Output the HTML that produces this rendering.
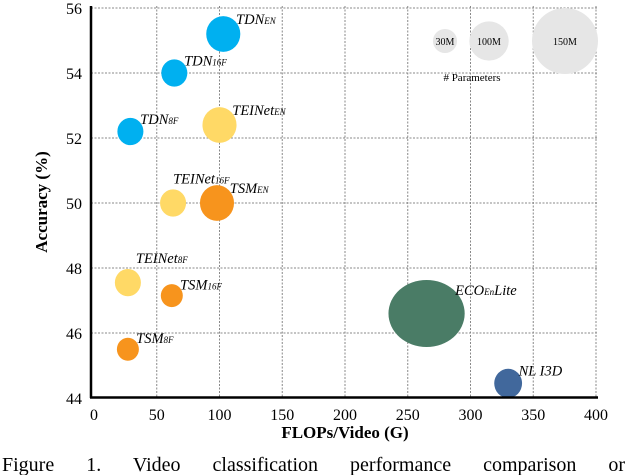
<!DOCTYPE html>
<html><head><style>
body{margin:0;background:#fff;width:640px;height:475px;overflow:hidden;font-family:"Liberation Serif",serif}
</style></head><body>
<svg width="640" height="475" style="position:absolute;left:0;top:0">
<g id="grid"></g>
<g id="bubbles"></g>
<g id="legend"></g>
<line x1="91" y1="6" x2="91" y2="398" stroke="#000" stroke-width="2.5"/>
<line x1="90" y1="397.5" x2="598" y2="397.5" stroke="#000" stroke-width="2.5"/>
<g id="ticks" font-size="16"></g>
<text x="345" y="438" text-anchor="middle" font-weight="bold" font-size="17">FLOPs/Video (G)</text>
<text transform="translate(47,202) rotate(-90)" text-anchor="middle" font-weight="bold" font-size="17">Accuracy (%)</text>
<text x="2" y="471" font-size="20" word-spacing="27">Figure 1. Video classification performance comparison or</text>
</svg>
<script>
const labels=["TDN","TDN","TDN","TEINet","TEINet","TSM","TEINet","TSM","TSM","ECO","NL I3D"];
const subs=["EN","16F","8F","EN","16F","EN","8F","16F","8F","En",""];
const flops=[103,64,29,100,63,98,27,62,27,265,330];
const acc=[55.2,54.0,52.2,52.4,50.0,50.0,47.55,47.15,45.5,46.6,44.45];
const params=[60,35,35,60,35,60,35,25,25,300,40];
const colors=["#00b0f0","#00b0f0","#00b0f0","#ffd966","#ffd966","#f7941d","#ffd966","#f7941d","#f7941d","#4a7c66","#41689c"];
const xTicks=[0,50,100,150,200,250,300,350,400];
const yTicks=[44,46,48,50,52,54,56];
const legendSizes=[30,80,225];
const legendLabels=["30M","100M","150M"];
const NS="http://www.w3.org/2000/svg";
const x=v=>94+1.255*v, y=v=>398-(v-44)*32.5;
const r=p=>2.2*Math.sqrt(p);
function mk(t,a,p){const e=document.createElementNS(NS,t);for(const k in a)e.setAttribute(k,a[k]);p.appendChild(e);return e;}
const grid=document.getElementById('grid'),tk=document.getElementById('ticks');
xTicks.forEach(v=>{if(v>0){const l=mk('line',{x1:x(v),x2:x(v),y1:6,y2:398,stroke:'#888','stroke-dasharray':'2,1.5','stroke-width':1},grid);

}
const t=mk('text',{x:x(v),y:420,'text-anchor':'middle'},tk);t.textContent=v;

});
yTicks.forEach(v=>{if(v>44){const l=mk('line',{x1:91,x2:598,y1:y(v),y2:y(v),stroke:'#888','stroke-dasharray':'2,1.5','stroke-width':1},grid);

}
const t=mk('text',{x:82,y:y(v)+6,'text-anchor':'end'},tk);t.textContent=v;

});
const bg=document.getElementById('bubbles');
flops.forEach((f,i)=>{const rr=r(params[i]);
const ry=i==9?rr*0.88:rr*1.05;
const c=mk('ellipse',{cx:x(f),cy:y(acc[i]),rx:rr,ry:ry,fill:colors[i]},bg);


const up=(i==6||i==4);
const t=mk('text',{x:up?x(f)+(i==4?0:8):x(f)+rr*0.75,y:up?y(acc[i])-ry-6:y(acc[i])-ry*0.55,'font-style':'italic','font-size':14.5},bg);


if(i==9){t.textContent='ECO';const s=mk('tspan',{'font-size':9},t);s.textContent='En';mk('tspan',{},t).textContent='Lite';}
else{t.textContent=labels[i];const s=mk('tspan',{'font-size':9},t);s.textContent=subs[i];}
});
const lg=document.getElementById('legend');const lx=[445,489,565];
legendSizes.forEach((p,i)=>{const rr=r(p);
const c=mk('circle',{cx:lx[i],cy:41,r:rr,fill:'#e6e6e6'},lg);


const t=mk('text',{x:lx[i],y:45,'text-anchor':'middle','font-size':10},lg);t.textContent=legendLabels[i];

});
const lt=mk('text',{x:472,y:81,'text-anchor':'middle','font-size':11},lg);lt.textContent='# Parameters';


</script>
</body></html>
